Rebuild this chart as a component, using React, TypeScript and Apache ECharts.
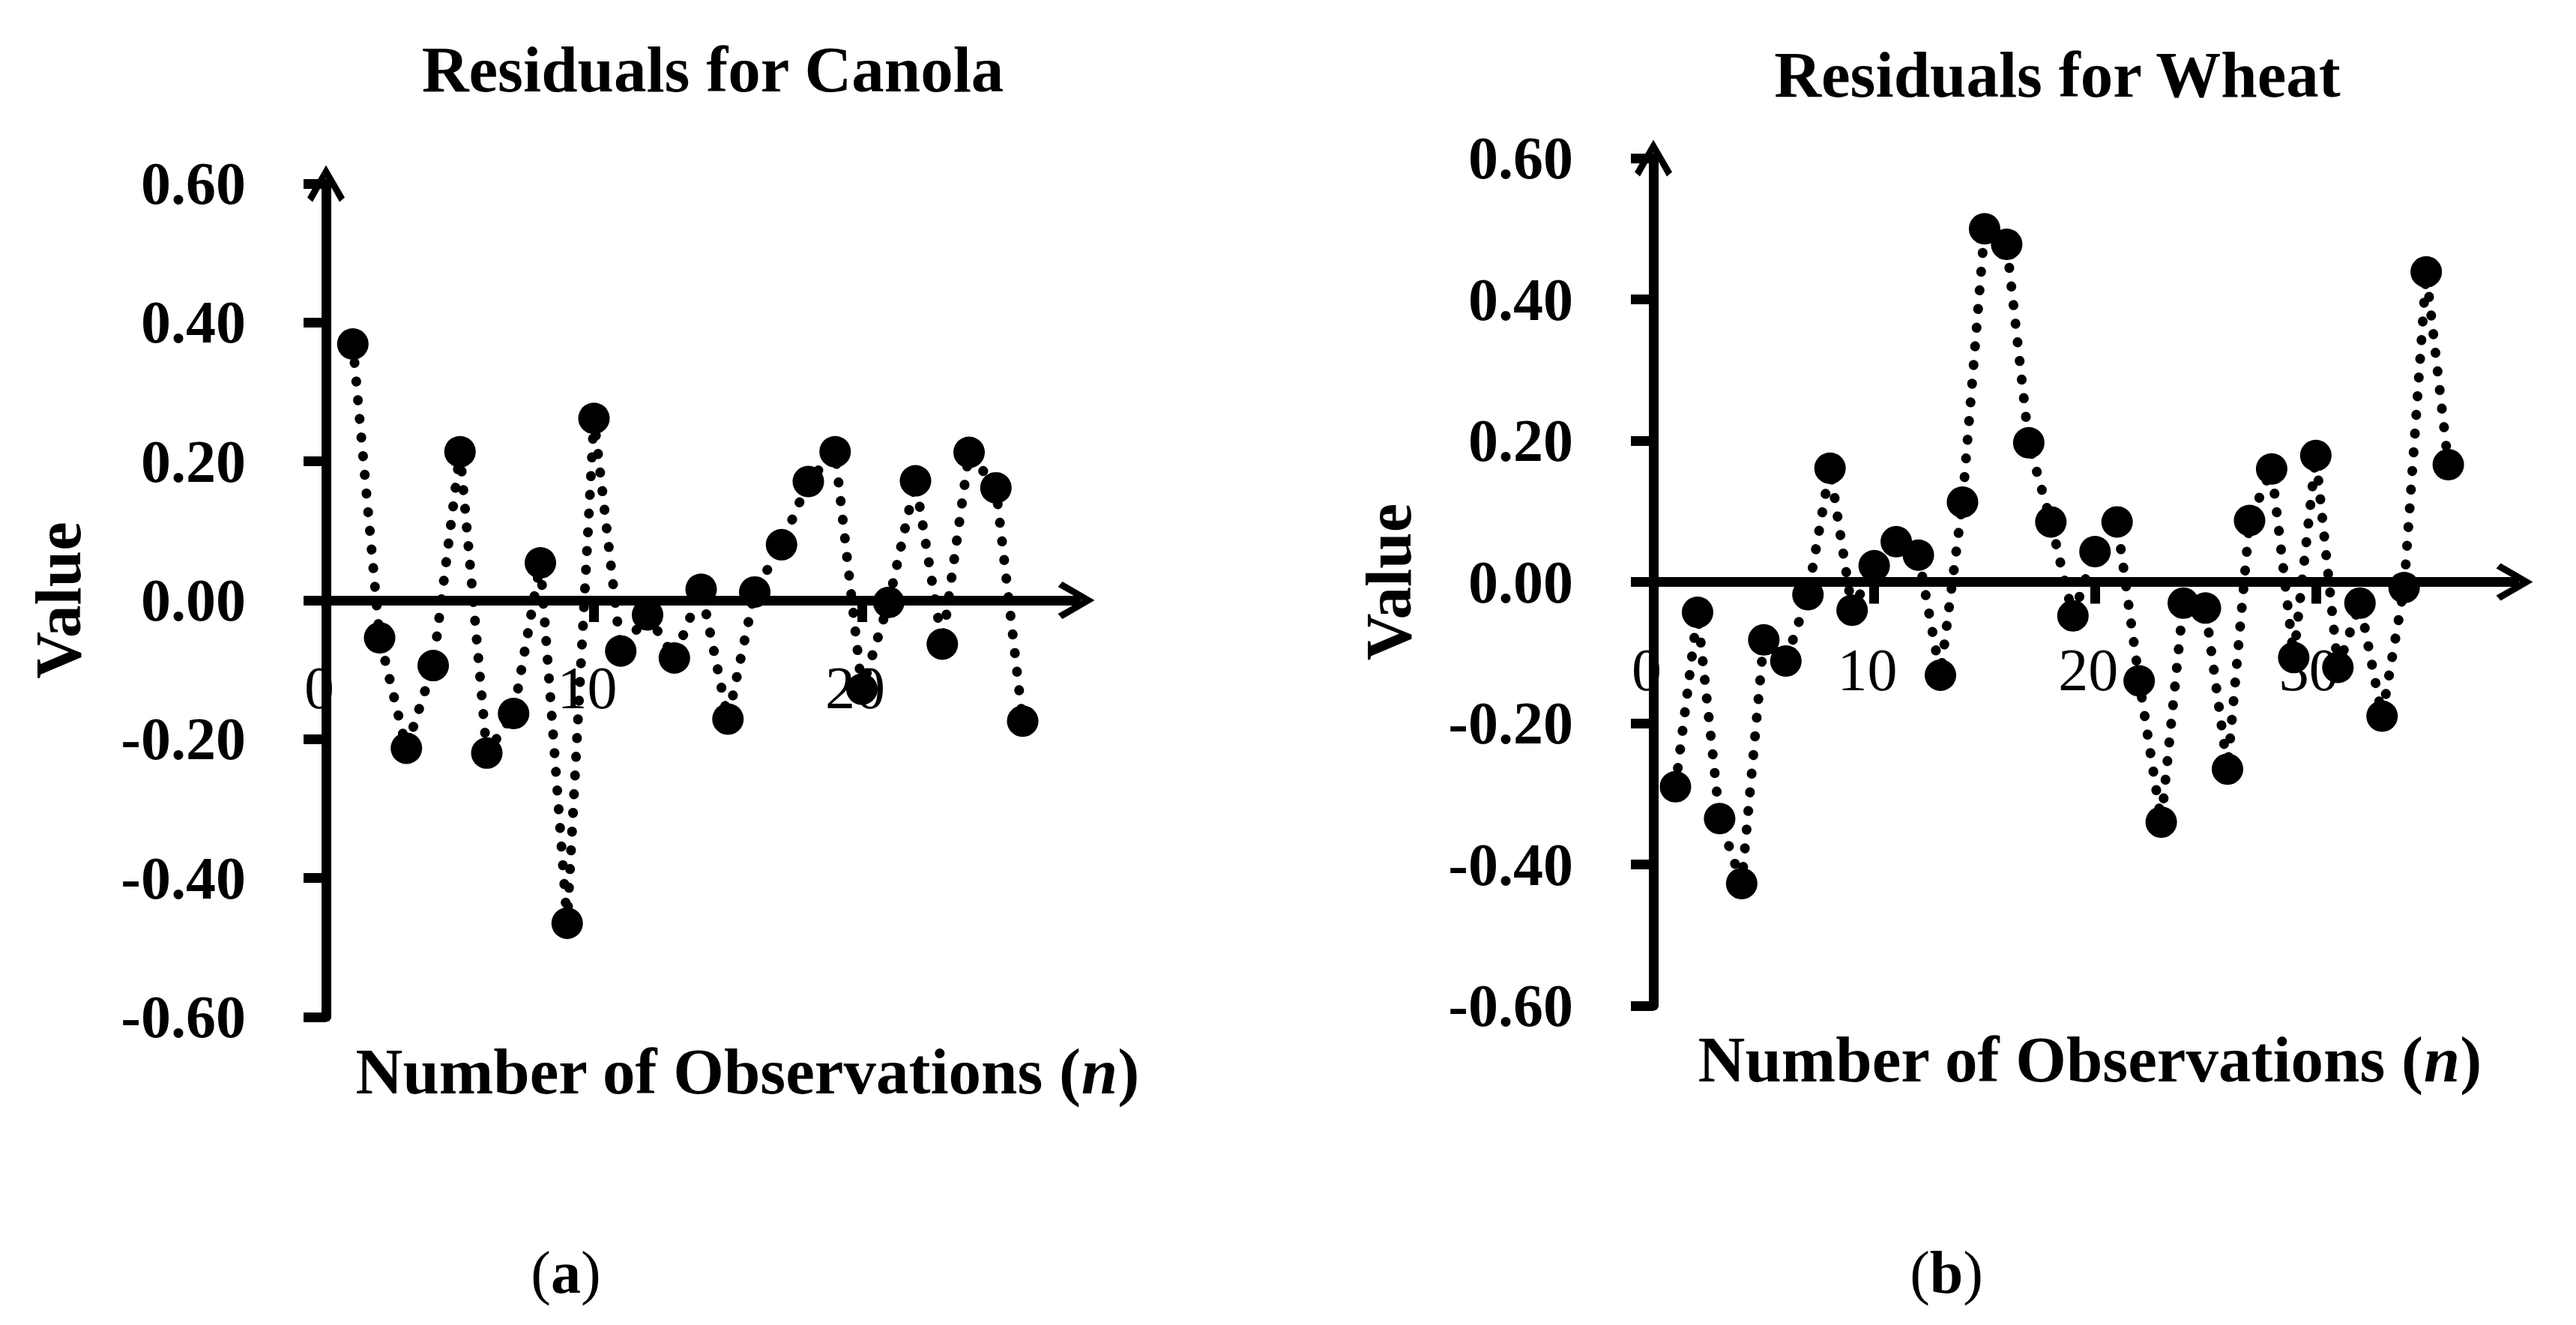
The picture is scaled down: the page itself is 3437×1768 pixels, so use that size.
import React, { useEffect, useRef } from "react";
import * as echarts from "echarts";

// Residuals
const canolaResiduals = [
  0.369, -0.054, -0.213, -0.094, 0.214, -0.22, -0.163, 0.054, -0.465, 0.262,
  -0.073, -0.021, -0.083, 0.016, -0.171, 0.012, 0.08, 0.171, 0.214, -0.128,
  -0.003, 0.172, -0.063, 0.213, 0.162, -0.174,
];
const wheatResiduals = [
  -0.29, -0.043, -0.335, -0.427, -0.082, -0.112, -0.018, 0.161, -0.04, 0.023,
  0.057, 0.038, -0.132, 0.113, 0.5, 0.478, 0.197, 0.085, -0.048, 0.043,
  0.085, -0.14, -0.34, -0.03, -0.037, -0.265, 0.087, 0.16, -0.107, 0.179,
  -0.121, -0.03, -0.19, -0.008, 0.439, 0.166,
];
const canolaXTicks = [0, 10, 20];
const wheatXTicks = [0, 10, 20, 30];
const titles = ["Residuals for Canola", "Residuals for Wheat"];
const panelLetters = ["a", "b"];
const xAxisTitle = "Number of Observations (";
const xAxisVar = "n";
const yAxisTitle = "Value";

const FONT = '"Palatino Linotype", "Book Antiqua", Palatino, "Liberation Serif", serif';
const ARROW = "path://M50,0 L100,86 L86,98 L50,34 L14,98 L0,86 Z";

const grids = [
  { left: 435, top: 245, width: 1001, height: 1112 },
  { left: 2206, top: 211, width: 1149, height: 1131 },
];

function makeX(gridIndex: number, max: number, ticks: number[]) {
  const g = grids[gridIndex];
  return {
    type: "value",
    gridIndex,
    min: 0,
    max,
    interval: 10,
    position: "bottom",
    // move the whole axis (line, ticks, labels) up to the y = 0 level
    offset: -g.height / 2,
    axisLine: {
      onZero: false,
      symbol: ["none", ARROW],
      symbolSize: [50, 50],
      lineStyle: { color: "#000", width: 13 },
    },
    axisTick: {
      customValues: ticks,
      length: 29,
      lineStyle: { color: "#000", width: 13 },
    },
    axisLabel: {
      customValues: ticks,
      margin: 77,
      fontSize: 80,
      lineHeight: 80,
      fontFamily: FONT,
      color: "#000",
      padding: [0, 18, 0, 0],
      hideOverlap: false,
    },
    splitLine: { show: false },
  };
}

function makeY(gridIndex: number, nameGap: number) {
  return {
    type: "value",
    gridIndex,
    min: -0.6,
    max: 0.6,
    interval: 0.2,
    name: yAxisTitle,
    nameLocation: "middle",
    nameRotate: 90,
    nameGap,
    nameTextStyle: {
      fontSize: 87,
      lineHeight: 87,
      fontWeight: "bold",
      fontFamily: FONT,
      color: "#000",
    },
    axisLine: {
      onZero: false,
      symbol: ["none", ARROW],
      symbolSize: [50, 50],
      lineStyle: { color: "#000", width: 13 },
    },
    axisTick: { length: 30, lineStyle: { color: "#000", width: 13 } },
    axisLabel: {
      margin: 107,
      fontSize: 80,
      lineHeight: 80,
      fontWeight: "bold",
      fontFamily: FONT,
      color: "#000",
      formatter: (v: number) => (Math.abs(v) < 1e-9 ? "0.00" : v.toFixed(2)),
    },
    splitLine: { show: false },
  };
}

function makeSeries(idx: number, values: number[]) {
  return {
    type: "line",
    xAxisIndex: idx,
    yAxisIndex: idx,
    data: values.map((v, i) => [i + 1, v]),
    symbol: "circle",
    symbolSize: 42,
    itemStyle: { color: "#000" },
    lineStyle: { color: "#000", width: 13, type: [0.5, 24.5], cap: "round" },
    clip: false,
    z: 5,
  };
}

function textEl(x: number, y: number, text: string, size: number, weight = "bold") {
  return {
    type: "text",
    x,
    y,
    style: {
      text,
      fontSize: size,
      fontWeight: weight,
      fontFamily: FONT,
      fill: "#000",
      align: "center",
      verticalAlign: "middle",
    },
  };
}

function richEl(x: number, y: number, text: string, rich: any) {
  return {
    type: "text",
    x,
    y,
    style: { text, rich, align: "center", verticalAlign: "middle", fill: "#000" },
  };
}

const nameRich = {
  b: { fontSize: 87, fontWeight: "bold", fontFamily: FONT, fill: "#000" },
  i: { fontSize: 87, fontWeight: "bold", fontStyle: "italic", fontFamily: FONT, fill: "#000" },
};
const capRich = {
  r: { fontSize: 80, fontFamily: FONT, fill: "#000" },
  b: { fontSize: 80, fontWeight: "bold", fontFamily: FONT, fill: "#000" },
};

export default function App() {
  const ref = useRef<HTMLDivElement>(null);
  useEffect(() => {
    if (!ref.current) return;
    const chart = echarts.init(ref.current, undefined, { renderer: "svg" });
    chart.setOption({
      animation: false,
      backgroundColor: "#fff",
      grid: grids,
      xAxis: [makeX(0, 28, canolaXTicks), makeX(1, 39, wheatXTicks)],
      yAxis: [makeY(0, 314), makeY(1, 310)],
      series: [makeSeries(0, canolaResiduals), makeSeries(1, wheatResiduals)],
      graphic: [
        textEl(951, 92, titles[0], 87),
        textEl(2745, 99, titles[1], 87),
        richEl(997, 1429, `{b|${xAxisTitle}}{i|${xAxisVar}}{b|)}`, nameRich),
        richEl(2788, 1413, `{b|${xAxisTitle}}{i|${xAxisVar}}{b|)}`, nameRich),
        richEl(755, 1698, `{r|(}{b|${panelLetters[0]}}{r|)}`, capRich),
        richEl(2597, 1698, `{r|(}{b|${panelLetters[1]}}{r|)}`, capRich),
      ],
    });
    return () => chart.dispose();
  }, []);
  return (
    <div
      ref={ref}
      style={{ position: "absolute", left: 0, top: 0, width: 3437, height: 1768 }}
    />
  );
}
